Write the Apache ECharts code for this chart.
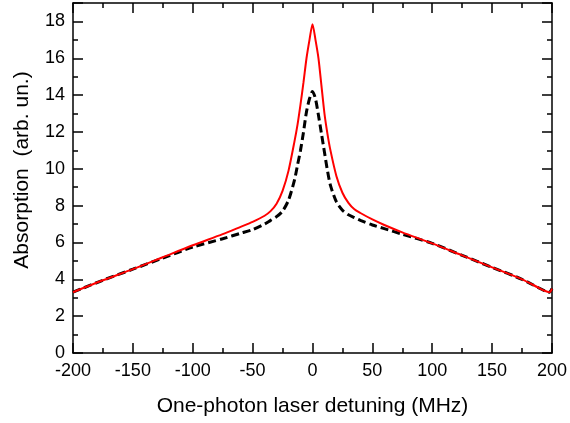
<!DOCTYPE html>
<html>
<head>
<meta charset="utf-8">
<script src="https://cdn.jsdelivr.net/npm/echarts@6/dist/echarts.min.js"></script>
<style>
  html, body { margin: 0; padding: 0; background: #fff; }
  #main { width: 570px; height: 423px; }
</style>
</head>
<body>
<div id="main"></div>
<script>
// detuning (MHz)
var detuning = [-200, -175, -150, -125, -100, -75, -60, -50, -40, -35, -30, -25, -20, -15, -12.5, -10, -7.5, -5, -2.5, 0,
                2.5, 5, 7.5, 10, 12.5, 15, 20, 25, 30, 35, 40, 50, 60, 75, 100, 125, 150, 175, 190, 195, 198, 200];
// red solid curve
var redAbs = [3.3, 3.95, 4.55, 5.2, 5.85, 6.45, 6.85, 7.12, 7.45, 7.7, 8.1, 8.8, 9.9, 11.5, 12.4, 13.5, 14.7, 16.0, 17.0, 17.85,
              17.0, 16.0, 14.5, 13.0, 11.9, 11.0, 9.6, 8.7, 8.15, 7.8, 7.6, 7.25, 6.95, 6.55, 5.95, 5.3, 4.65, 4.0, 3.5, 3.35, 3.3, 3.5];
// black dashed curve
var blackAbs = [3.3, 3.95, 4.55, 5.15, 5.75, 6.2, 6.5, 6.7, 7.0, 7.2, 7.4, 7.7, 8.3, 9.4, 10.2, 11.0, 12.0, 13.1, 13.8, 14.2,
                13.8, 12.9, 11.9, 10.9, 9.9, 9.1, 8.2, 7.75, 7.5, 7.35, 7.2, 6.95, 6.75, 6.45, 5.95, 5.3, 4.65, 4.0, 3.5, 3.35, 3.3, 3.5];

function pairs(xs, ys) {
    var out = [];
    for (var i = 0; i < xs.length; i++) out.push([xs[i], ys[i]]);
    return out;
}

var font = 'Liberation Sans, Arial, sans-serif';
var axisLine = { show: true, onZero: false, lineStyle: { color: '#000', width: 1.5 } };
var tickIn = { show: true, inside: true, length: 10, lineStyle: { color: '#000', width: 1.5 } };
var minorIn = { show: true, splitNumber: 2, length: 5, lineStyle: { color: '#000', width: 1.5 } };

var chart = echarts.init(document.getElementById('main'));
chart.setOption({
    animation: false,
    backgroundColor: '#fff',
    grid: { left: 73, right: 17, top: 3, bottom: 70 },
    xAxis: [{
        type: 'value', min: -200, max: 200, interval: 50,
        name: 'One-photon laser detuning (MHz)', nameLocation: 'middle', nameGap: 43,
        nameTextStyle: { fontFamily: font, fontSize: 21, color: '#000' },
        axisLine: axisLine, axisTick: tickIn, minorTick: minorIn,
        axisLabel: { fontFamily: font, fontSize: 18, color: '#000', margin: 9 },
        splitLine: { show: false }
    }, {
        type: 'value', min: -200, max: 200, interval: 50, position: 'top',
        axisLine: axisLine, axisTick: tickIn, minorTick: minorIn,
        axisLabel: { show: false }, splitLine: { show: false }
    }],
    yAxis: [{
        type: 'value', min: 0, max: 19, interval: 2,
        name: 'Absorption  (arb. un.)', nameLocation: 'middle', nameGap: 40,
        nameTextStyle: { fontFamily: font, fontSize: 21, color: '#000', padding: [0, 0, 0, 16] },
        axisLine: axisLine, axisTick: tickIn, minorTick: minorIn,
        axisLabel: { fontFamily: font, fontSize: 18, color: '#000', margin: 8,
            formatter: function (v) { return v % 2 === 0 ? v : ''; } },
        splitLine: { show: false }
    }, {
        type: 'value', min: 0, max: 19, interval: 2, position: 'right',
        axisLine: axisLine, axisTick: tickIn, minorTick: minorIn,
        axisLabel: { show: false }, splitLine: { show: false }
    }],
    series: [{
        type: 'line', data: pairs(detuning, blackAbs), showSymbol: false,
        smooth: 0.25, z: 2,
        lineStyle: { color: '#000', width: 3, type: [8, 4] }
    }, {
        type: 'line', data: pairs(detuning, redAbs), showSymbol: false,
        smooth: 0.25, z: 3,
        lineStyle: { color: '#ff0000', width: 2 }
    }]
});
</script>
</body>
</html>
